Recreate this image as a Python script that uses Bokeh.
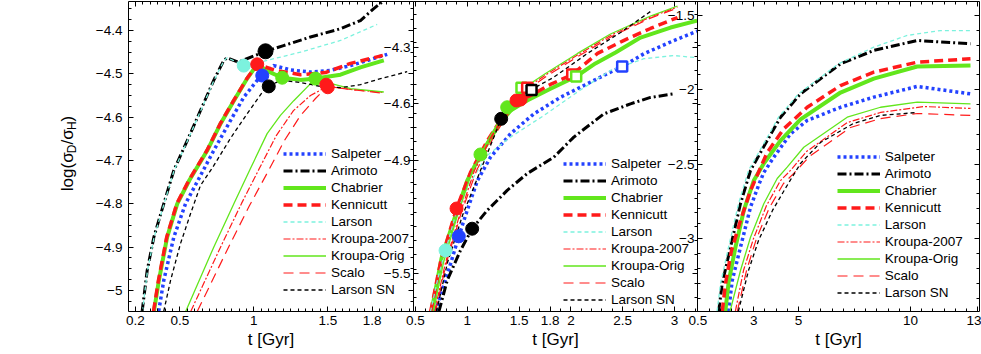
import numpy as np
from math import pi
from bokeh.plotting import figure
from bokeh.models import (Range1d, LinearAxis, FixedTicker, CustomJSTickFormatter,
                          Legend, LegendItem, Label)
from bokeh.embed import file_html
from bokeh.resources import INLINE

IMF_NAMES = ["Salpeter", "Arimoto", "Chabrier", "Kennicutt", "Larson",
             "Kroupa-2007", "Kroupa-Orig", "Scalo", "Larson SN"]

# ---------------- panel 1 : t [Gyr], log(sigma_D/sigma_H) ----------------
P1_SALPETER_T = [0.357, 0.391, 0.459, 0.538, 0.639, 0.729, 0.842, 0.932, 1.023, 1.057, 1.135, 1.248, 1.383, 1.518, 1.654, 1.789, 1.902]
P1_SALPETER_D = [-5.048, -4.977, -4.877, -4.800, -4.735, -4.677, -4.608, -4.554, -4.515, -4.504, -4.481, -4.491, -4.496, -4.492, -4.481, -4.467, -4.455]
P1_ARIMOTO_T = [0.245, 0.279, 0.324, 0.391, 0.459, 0.550, 0.639, 0.729, 0.797, 0.820, 0.896, 1.079, 1.201, 1.383, 1.586, 1.721, 1.809, 1.868]
P1_ARIMOTO_D = [-5.048, -4.954, -4.877, -4.800, -4.723, -4.654, -4.585, -4.515, -4.469, -4.463, -4.473, -4.448, -4.435, -4.415, -4.396, -4.377, -4.350, -4.334]
P1_CHABRIER_T = [0.325, 0.358, 0.414, 0.482, 0.565, 0.685, 0.775, 0.865, 0.955, 1.023, 1.100, 1.192, 1.316, 1.417, 1.586, 1.721, 1.879]
P1_CHABRIER_D = [-5.048, -4.977, -4.877, -4.800, -4.745, -4.677, -4.615, -4.562, -4.511, -4.478, -4.495, -4.509, -4.514, -4.511, -4.502, -4.485, -4.469]
P1_KENNICUTT_T = [0.322, 0.355, 0.411, 0.479, 0.562, 0.683, 0.773, 0.863, 0.953, 1.023, 1.147, 1.316, 1.485, 1.654, 1.902]
P1_KENNICUTT_D = [-5.048, -4.977, -4.877, -4.800, -4.745, -4.677, -4.615, -4.562, -4.511, -4.478, -4.492, -4.502, -4.497, -4.476, -4.455]
P1_LARSON_T = [0.247, 0.281, 0.326, 0.393, 0.461, 0.552, 0.641, 0.731, 0.799, 0.820, 0.880, 0.932, 1.000, 1.090, 1.316, 1.586, 1.834]
P1_LARSON_D = [-5.048, -4.954, -4.877, -4.800, -4.723, -4.654, -4.585, -4.515, -4.469, -4.463, -4.472, -4.481, -4.476, -4.469, -4.450, -4.423, -4.386]
P1_KROUPA07_T = [0.574, 0.775, 0.917, 1.038, 1.153, 1.268, 1.383, 1.498, 1.654, 1.877]
P1_KROUPA07_D = [-5.048, -4.900, -4.799, -4.718, -4.642, -4.585, -4.550, -4.529, -4.536, -4.543]
P1_KROUPAOR_T = [0.540, 0.729, 0.865, 0.978, 1.090, 1.180, 1.270, 1.417, 1.518, 1.654, 1.879]
P1_KROUPAOR_D = [-5.048, -4.900, -4.800, -4.718, -4.638, -4.596, -4.562, -4.511, -4.522, -4.534, -4.542]
P1_SCALO_T = [0.618, 0.829, 0.971, 1.092, 1.207, 1.316, 1.417, 1.498, 1.654, 1.877]
P1_SCALO_D = [-5.048, -4.900, -4.804, -4.728, -4.654, -4.596, -4.557, -4.529, -4.536, -4.545]
P1_LARSONSN_T = [0.391, 0.437, 0.504, 0.572, 0.639, 0.729, 0.842, 0.955, 1.067, 1.101, 1.180, 1.316, 1.451, 1.586, 1.721, 1.857, 2.037]
P1_LARSONSN_D = [-5.048, -4.977, -4.892, -4.823, -4.758, -4.712, -4.649, -4.592, -4.538, -4.529, -4.515, -4.520, -4.529, -4.532, -4.525, -4.511, -4.495]

P1_DOT_IMF = ["Arimoto", "Larson", "Kennicutt", "Salpeter", "Larson SN", "Chabrier", "Kroupa-Orig", "Kroupa-2007", "Scalo"]
P1_DOT_T = [1.079, 0.932, 1.023, 1.057, 1.101, 1.192, 1.417, 1.490, 1.500]
P1_DOT_D = [-4.448, -4.481, -4.478, -4.504, -4.529, -4.509, -4.511, -4.525, -4.531]

# ---------------- panel 2 ----------------
P2_SALPETER_T = [0.694, 0.838, 0.918, 0.999, 1.098, 1.224, 1.417, 1.642, 1.900, 2.157, 2.382, 2.495, 2.704, 2.993, 3.219]
P2_SALPETER_D = [-5.699, -5.447, -5.301, -5.164, -5.006, -4.882, -4.758, -4.653, -4.565, -4.494, -4.432, -4.402, -4.335, -4.265, -4.215]
P2_ARIMOTO_T = [0.726, 0.806, 0.934, 1.047, 1.192, 1.385, 1.578, 1.835, 2.028, 2.318, 2.575, 2.768, 2.993]
P2_ARIMOTO_D = [-5.699, -5.535, -5.376, -5.261, -5.164, -5.058, -4.969, -4.882, -4.776, -4.653, -4.600, -4.566, -4.547]
P2_CHABRIER_T = [0.655, 0.751, 0.886, 0.999, 1.127, 1.289, 1.417, 1.578, 1.803, 2.051, 2.237, 2.431, 2.672, 2.962, 3.219]
P2_CHABRIER_D = [-5.699, -5.418, -5.190, -5.006, -4.868, -4.725, -4.635, -4.582, -4.520, -4.455, -4.386, -4.328, -4.249, -4.196, -4.159]
P2_KENNICUTT_T = [0.647, 0.741, 0.896, 1.031, 1.195, 1.369, 1.494, 1.610, 1.803, 2.013, 2.257, 2.508, 2.768, 3.029]
P2_KENNICUTT_D = [-5.699, -5.440, -5.154, -4.963, -4.794, -4.646, -4.582, -4.556, -4.497, -4.445, -4.333, -4.265, -4.201, -4.143]
P2_LARSON_T = [0.645, 0.722, 0.790, 0.886, 1.012, 1.192, 1.417, 1.738, 2.061, 2.382, 2.704, 2.993, 3.219]
P2_LARSON_D = [-5.699, -5.509, -5.376, -5.190, -5.031, -4.873, -4.776, -4.662, -4.538, -4.423, -4.361, -4.344, -4.356]
P2_KROUPA07_T = [0.684, 0.790, 0.925, 1.069, 1.243, 1.407, 1.533, 1.764, 2.073, 2.392, 2.768, 3.029]
P2_KROUPA07_D = [-5.699, -5.440, -5.190, -4.953, -4.767, -4.625, -4.529, -4.444, -4.338, -4.235, -4.140, -4.087]
P2_KROUPAOR_T = [0.674, 0.770, 0.905, 1.050, 1.224, 1.385, 1.523, 1.755, 2.064, 2.382, 2.768, 3.029]
P2_KROUPAOR_D = [-5.699, -5.440, -5.190, -4.953, -4.767, -4.618, -4.524, -4.439, -4.333, -4.230, -4.135, -4.082]
P2_SCALO_T = [0.693, 0.799, 0.934, 1.089, 1.263, 1.427, 1.552, 1.774, 2.083, 2.402, 2.768, 3.029]
P2_SCALO_D = [-5.699, -5.440, -5.190, -4.953, -4.767, -4.625, -4.534, -4.450, -4.344, -4.241, -4.146, -4.093]
P2_LARSONSN_T = [0.703, 0.809, 0.954, 1.127, 1.327, 1.465, 1.620, 1.832, 2.160, 2.479, 2.768]
P2_LARSONSN_D = [-5.699, -5.440, -5.190, -4.953, -4.679, -4.572, -4.524, -4.460, -4.333, -4.222, -4.111]

P2_DOT_IMF = ["Larson", "Kennicutt", "Salpeter", "Arimoto", "Chabrier", "Larson SN", "Kroupa-Orig", "Kroupa-2007", "Scalo"]
P2_DOT_T = [0.790, 0.896, 0.918, 1.047, 1.127, 1.327, 1.385, 1.475, 1.514]
P2_DOT_D = [-5.376, -5.154, -5.301, -5.261, -4.868, -4.679, -4.618, -4.582, -4.577]
P2_SQ_IMF = ["Kroupa-Orig", "Scalo", "Larson SN", "Kennicutt", "Chabrier", "Salpeter"]
P2_SQ_T = [1.523, 1.578, 1.620, 2.013, 2.051, 2.495]
P2_SQ_D = [-4.515, -4.515, -4.526, -4.445, -4.455, -4.402]

# ---------------- panel 3 ----------------
P3_SALPETER_T = [1.874, 2.036, 2.406, 2.853, 3.210, 3.446, 3.893, 4.638, 5.384, 6.871, 8.357, 10.295, 12.674]
P3_SALPETER_D = [-3.490, -3.282, -3.058, -2.789, -2.643, -2.556, -2.453, -2.296, -2.206, -2.117, -2.049, -1.977, -2.027]
P3_ARIMOTO_T = [1.432, 1.589, 1.960, 2.405, 2.853, 3.598, 4.192, 5.085, 6.871, 8.357, 10.295, 12.674]
P3_ARIMOTO_D = [-3.490, -3.304, -3.058, -2.766, -2.542, -2.341, -2.184, -2.027, -1.825, -1.735, -1.668, -1.690]
P3_CHABRIER_T = [1.727, 1.884, 2.183, 2.554, 3.000, 3.446, 4.192, 5.085, 6.871, 8.357, 10.295, 12.674]
P3_CHABRIER_D = [-3.490, -3.284, -3.058, -2.811, -2.610, -2.495, -2.341, -2.199, -2.018, -1.924, -1.843, -1.836]
P3_KENNICUTT_T = [1.592, 1.737, 2.004, 2.406, 2.853, 3.598, 4.339, 5.384, 6.871, 8.357, 10.295, 12.674]
P3_KENNICUTT_D = [-3.490, -3.302, -3.080, -2.879, -2.677, -2.421, -2.262, -2.117, -1.971, -1.881, -1.814, -1.791]
P3_LARSON_T = [1.360, 1.513, 1.871, 2.317, 2.763, 3.522, 4.103, 4.996, 6.781, 8.357, 9.848, 11.335, 12.674]
P3_LARSON_D = [-3.490, -3.304, -3.058, -2.766, -2.542, -2.341, -2.184, -2.027, -1.825, -1.713, -1.634, -1.601, -1.601]
P3_KROUPA07_T = [2.176, 2.540, 2.987, 3.567, 4.192, 4.638, 5.353, 7.170, 8.656, 10.576, 12.674]
P3_KROUPA07_D = [-3.490, -3.215, -3.000, -2.778, -2.610, -2.542, -2.415, -2.220, -2.152, -2.112, -2.125]
P3_KROUPAOR_T = [1.940, 2.406, 2.853, 3.446, 4.045, 4.491, 5.232, 7.170, 8.656, 10.295, 12.674]
P3_KROUPAOR_D = [-3.490, -3.215, -2.991, -2.766, -2.596, -2.520, -2.386, -2.184, -2.117, -2.083, -2.094]
P3_SCALO_T = [2.265, 2.674, 3.121, 3.701, 4.326, 4.772, 5.531, 7.317, 8.656, 10.308, 12.674]
P3_SCALO_D = [-3.490, -3.215, -3.000, -2.791, -2.630, -2.563, -2.442, -2.253, -2.193, -2.159, -2.172]
P3_LARSONSN_T = [2.310, 2.763, 3.210, 3.835, 4.460, 5.085, 5.978, 7.451, 8.656, 10.308]
P3_LARSONSN_D = [-3.490, -3.215, -3.013, -2.811, -2.650, -2.495, -2.354, -2.226, -2.172, -2.152]

# ---------------- tick labels ----------------
X1_TICKS = [0.2, 0.5, 1, 1.5, 1.8]
X2_TICKS = [0.5, 1, 1.5, 1.8, 2, 2.5, 3]
X3_TICKS = [0.5, 3, 5, 10, 13]
Y1_TICKS = [-5, -4.9, -4.8, -4.7, -4.6, -4.5, -4.4]
Y2_TICKS = [-5.5, -4.9, -4.6, -4.3]
Y3_TICKS = [-3, -2.5, -2, -1.5]

# ---------------- assemble tables ----------------
P1 = {"Salpeter": (P1_SALPETER_T, P1_SALPETER_D), "Arimoto": (P1_ARIMOTO_T, P1_ARIMOTO_D),
      "Chabrier": (P1_CHABRIER_T, P1_CHABRIER_D), "Kennicutt": (P1_KENNICUTT_T, P1_KENNICUTT_D),
      "Larson": (P1_LARSON_T, P1_LARSON_D), "Kroupa-2007": (P1_KROUPA07_T, P1_KROUPA07_D),
      "Kroupa-Orig": (P1_KROUPAOR_T, P1_KROUPAOR_D), "Scalo": (P1_SCALO_T, P1_SCALO_D),
      "Larson SN": (P1_LARSONSN_T, P1_LARSONSN_D)}
P2 = {"Salpeter": (P2_SALPETER_T, P2_SALPETER_D), "Arimoto": (P2_ARIMOTO_T, P2_ARIMOTO_D),
      "Chabrier": (P2_CHABRIER_T, P2_CHABRIER_D), "Kennicutt": (P2_KENNICUTT_T, P2_KENNICUTT_D),
      "Larson": (P2_LARSON_T, P2_LARSON_D), "Kroupa-2007": (P2_KROUPA07_T, P2_KROUPA07_D),
      "Kroupa-Orig": (P2_KROUPAOR_T, P2_KROUPAOR_D), "Scalo": (P2_SCALO_T, P2_SCALO_D),
      "Larson SN": (P2_LARSONSN_T, P2_LARSONSN_D)}
P3 = {"Salpeter": (P3_SALPETER_T, P3_SALPETER_D), "Arimoto": (P3_ARIMOTO_T, P3_ARIMOTO_D),
      "Chabrier": (P3_CHABRIER_T, P3_CHABRIER_D), "Kennicutt": (P3_KENNICUTT_T, P3_KENNICUTT_D),
      "Larson": (P3_LARSON_T, P3_LARSON_D), "Kroupa-2007": (P3_KROUPA07_T, P3_KROUPA07_D),
      "Kroupa-Orig": (P3_KROUPAOR_T, P3_KROUPAOR_D), "Scalo": (P3_SCALO_T, P3_SCALO_D),
      "Larson SN": (P3_LARSONSN_T, P3_LARSONSN_D)}

# ---------------- styles ----------------
BLUE, BLACK, GREEN, RED, CYAN = "#2342ff", "#000000", "#62e61c", "#ff1a1a", "#7cf2de"
STYLE = {
    "Salpeter": (BLUE, 3.5, "3 3"),
    "Arimoto": (BLACK, 3.0, "9 3 2 3"),
    "Chabrier": (GREEN, 4.0, "solid"),
    "Kennicutt": (RED, 3.5, "9 5"),
    "Larson": (CYAN, 1.3, "4 3"),
    "Kroupa-2007": (RED, 1.2, "7 2 2 2"),
    "Kroupa-Orig": (GREEN, 1.3, "solid"),
    "Scalo": (RED, 1.2, "10 6"),
    "Larson SN": (BLACK, 1.3, "4 3"),
}
FONT = "Liberation Sans"

# ---------------- layout (canvas pixels, frame = whole canvas) ----------------
W, H = 981, 354
PANEL_PX = [(128, 413), (413, 697), (697, 979)]
PANEL_TOP, PANEL_BOT = 1, 311
PANEL_X = [(0.1527, 2.0797), (0.4807, 3.222), (0.4866, 13.076)]
PANEL_Y = [(-5.0485, -4.3331), (-5.6992, -4.0581), (-3.4906, -1.4058)]
X_MINOR = [0.05, 0.1, 0.5]
Y_MINOR = [0.025, 0.075, 0.1]
LEG_LOC = [(283, 56.5), (563, 46.2), (836.7, 52.8)]
Y_STANDOFF = [6, 3, 3]
TITLE_X, TITLE_Y = 67, 163.3

p = figure(width=W, height=H, x_range=Range1d(0, 1), y_range=Range1d(0, 1),
           x_axis_type=None, y_axis_type=None, toolbar_location=None,
           output_backend="svg", min_border=0,
           background_fill_color="white", border_fill_color="white",
           outline_line_color=None)

xr, yr = {}, {}
for k in range(3):
    a, b = PANEL_PX[k]
    d0, d1 = PANEL_X[k]
    s = (d1 - d0) / (b - a)
    xr[f"x{k}"] = Range1d(d0 - a * s, d1 + (W - b) * s)
    y0, y1 = PANEL_Y[k]
    sy = (y1 - y0) / (PANEL_BOT - PANEL_TOP)
    yr[f"y{k}"] = Range1d(y0 - (H - PANEL_BOT) * sy, y1 + PANEL_TOP * sy)
p.extra_x_ranges = xr
p.extra_y_ranges = yr

fmt_show = CustomJSTickFormatter(code="return String(tick).replace('-', '\u2212');")


def blank():
    return CustomJSTickFormatter(code="return '';")


def style_axis(ax, show, standoff=4):
    ax.axis_line_color = "black"
    ax.axis_line_width = 1
    ax.major_tick_in = 5
    ax.major_tick_out = 0
    ax.minor_tick_in = 3
    ax.minor_tick_out = 0
    ax.major_tick_line_color = "black"
    ax.minor_tick_line_color = "black"
    ax.major_label_text_font = FONT
    ax.major_label_text_font_size = "13.5px" if show else "0px"
    ax.major_label_text_color = "black"
    ax.major_label_standoff = standoff
    ax.axis_label_text_font = FONT
    ax.axis_label_text_font_size = "17px"
    ax.axis_label_text_font_style = "normal"
    ax.axis_label_text_color = "black"
    ax.axis_label_standoff = 2


XT = [X1_TICKS, X2_TICKS, X3_TICKS]
YT = [Y1_TICKS, Y2_TICKS, Y3_TICKS]
DATA = [P1, P2, P3]

for k in range(3):
    xn, yn = f"x{k}", f"y{k}"
    x0, x1 = PANEL_X[k]
    y0, y1 = PANEL_Y[k]
    xminor = list(np.round(np.arange(np.ceil(x0 / X_MINOR[k]) * X_MINOR[k], x1, X_MINOR[k]), 4))
    yminor = list(np.round(np.arange(np.ceil(y0 / Y_MINOR[k]) * Y_MINOR[k], y1, Y_MINOR[k]), 4))

    items = []
    for name in IMF_NAMES:
        t, d = DATA[k][name]
        color, width, dash = STYLE[name]
        r = p.line(t, d, x_range_name=xn, y_range_name=yn, line_color=color,
                   line_width=width, line_dash=dash, line_cap="butt", line_join="round")
        items.append(LegendItem(label=name, renderers=[r]))

    bot = LinearAxis(x_range_name=xn, y_range_name=yn, fixed_location=y0, bounds=(x0, x1),
                     ticker=FixedTicker(ticks=XT[k], minor_ticks=xminor), formatter=fmt_show,
                     axis_label="t [Gyr]")
    style_axis(bot, True, 4)
    p.add_layout(bot, "below")
    top = LinearAxis(x_range_name=xn, y_range_name=yn, fixed_location=y1, bounds=(x0, x1),
                     ticker=FixedTicker(ticks=XT[k], minor_ticks=xminor), formatter=blank())
    style_axis(top, False)
    p.add_layout(top, "above")
    left = LinearAxis(x_range_name=xn, y_range_name=yn, fixed_location=x0, bounds=(y0, y1),
                      ticker=FixedTicker(ticks=YT[k], minor_ticks=yminor), formatter=fmt_show)
    style_axis(left, True, Y_STANDOFF[k])
    p.add_layout(left, "left")
    right = LinearAxis(x_range_name=xn, y_range_name=yn, fixed_location=x1, bounds=(y0, y1),
                       ticker=FixedTicker(ticks=YT[k], minor_ticks=yminor), formatter=blank())
    style_axis(right, False)
    p.add_layout(right, "right")

    leg = Legend(items=items, location=LEG_LOC[k], glyph_width=43, glyph_height=17,
                 label_height=17, label_standoff=5, spacing=0, padding=0, margin=0,
                 label_text_font=FONT, label_text_font_size="13.5px",
                 label_text_color="black", border_line_alpha=0, background_fill_alpha=0)
    p.add_layout(leg)

# markers panel 1
for name, t, d in zip(P1_DOT_IMF, P1_DOT_T, P1_DOT_D):
    c = STYLE[name][0]
    p.scatter([t], [d], x_range_name="x0", y_range_name="y0", marker="circle",
              size=15 if name == "Arimoto" else 13, fill_color=c, line_color=c)
# markers panel 2
for name, t, d in zip(P2_DOT_IMF, P2_DOT_T, P2_DOT_D):
    c = STYLE[name][0]
    p.scatter([t], [d], x_range_name="x1", y_range_name="y1", marker="circle",
              size=13, fill_color=c, line_color=c)
for name, t, d in zip(P2_SQ_IMF, P2_SQ_T, P2_SQ_D):
    c = STYLE[name][0]
    p.scatter([t], [d], x_range_name="x1", y_range_name="y1", marker="square",
              size=10, fill_color="white", line_color=c, line_width=2.5)

# y-axis title: log(sigma_D / sigma_H) with subscripts (screen px from canvas bottom-left)
YT_PARTS = [("log(\u03c3", 0.0, 0, "17px"), ("D", 38.0, 4, "12px"), ("/\u03c3", 46.7, 0, "17px"),
            ("H", 61.1, 4, "12px"), (")", 69.8, 0, "17px")]
for txt, dy, dx, fs in YT_PARTS:
    p.add_layout(Label(x=TITLE_X + dx, y=TITLE_Y + dy, x_units="screen", y_units="screen",
                       text=txt, angle=pi / 2, text_font=FONT, text_font_size=fs,
                       text_color="black", text_align="left", text_baseline="alphabetic"))

open("out.html", "w").write(file_html(p, INLINE))
